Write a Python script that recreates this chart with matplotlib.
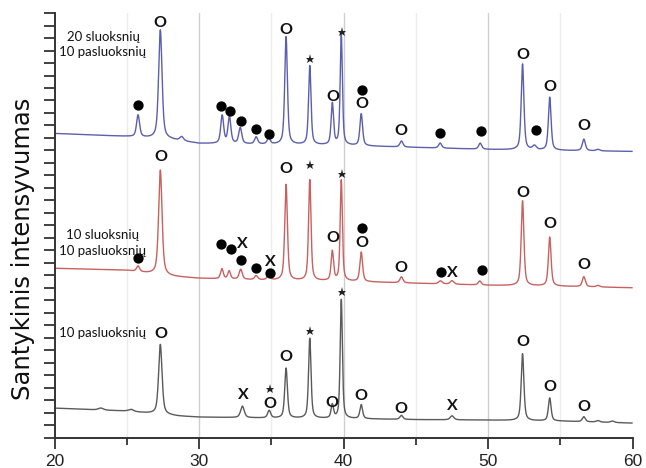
import numpy as np
import matplotlib
matplotlib.use("Agg")
import matplotlib.pyplot as plt
from matplotlib.ticker import MultipleLocator

# ---- diffraction data (2θ in degrees, intensity in arbitrary counts) ----
# background levels of each pattern
bg_black_tt = [20, 25, 28.6, 30, 35, 40, 45, 50, 55, 60]
bg_black_i = [118, 106, 86, 82, 78, 76, 72, 70, 66, 58]
bg_red_tt = [20, 25, 28, 30, 35, 40, 45, 50, 55, 60]
bg_red_i = [678, 670, 646, 638, 630, 626, 618, 610, 606, 600]
bg_blue_tt = [20, 25, 28, 30, 35, 40, 45, 50, 55, 60]
bg_blue_i = [1218, 1206, 1194, 1178, 1174, 1170, 1162, 1154, 1150, 1146]

# reflections: position, height above background, FWHM
pk_black_tt = [23.2, 25.3, 27.32, 33.0, 34.85, 36.02, 37.66, 39.22, 39.84, 41.22,
               44.0, 47.5, 52.38, 54.26, 56.62, 57.6, 58.6]
pk_black_h = [8, 8, 280, 46, 30, 200, 320, 54, 476, 56,
              16, 16, 268, 92, 20, 6, 6]
pk_black_w = [0.4, 0.4, 0.28, 0.3, 0.25, 0.22, 0.2, 0.2, 0.18, 0.22,
              0.25, 0.3, 0.22, 0.22, 0.25, 0.3, 0.3]

pk_red_tt = [25.78, 27.32, 31.58, 32.08, 32.88, 33.95, 34.82, 36.02, 37.66, 39.22,
             39.84, 41.22, 44.0, 46.7, 47.5, 49.42, 52.38, 54.26, 56.62, 57.6]
pk_red_h = [22, 420, 40, 32, 40, 16, 20, 384, 404, 118,
            404, 118, 24, 12, 14, 16, 340, 196, 40, 6]
pk_red_w = [0.25, 0.28, 0.22, 0.22, 0.25, 0.25, 0.25, 0.22, 0.2, 0.2,
            0.18, 0.22, 0.25, 0.3, 0.3, 0.25, 0.22, 0.22, 0.25, 0.3]

pk_blue_tt = [25.78, 27.32, 28.8, 31.6, 32.1, 32.85, 33.95, 34.82, 36.02, 37.66,
              39.22, 39.84, 41.22, 44.0, 46.68, 49.45, 52.38, 53.2, 54.26, 56.62, 57.6]
pk_blue_h = [88, 436, 16, 112, 106, 64, 28, 24, 432, 316,
             166, 440, 128, 24, 20, 24, 344, 16, 212, 46, 6]
pk_blue_w = [0.25, 0.28, 0.3, 0.24, 0.24, 0.25, 0.25, 0.25, 0.22, 0.2,
             0.2, 0.18, 0.22, 0.25, 0.25, 0.25, 0.22, 0.3, 0.22, 0.25, 0.3]

# phase markers: 2θ, intensity, symbol
ann_blue_tt = [25.78, 27.30, 31.52, 32.15, 32.91, 33.94, 34.84, 36.02, 37.68, 39.90,
               39.27, 41.28, 41.28, 43.98, 46.68, 49.51, 52.42, 53.32, 54.29, 56.64]
ann_blue_i = [1330, 1662, 1326, 1306, 1266, 1234, 1214, 1634, 1518, 1626,
              1362, 1394, 1334, 1226, 1218, 1226, 1534, 1230, 1406, 1246]
ann_blue_s = ["●", "O", "●", "●", "●", "●", "●", "O", "★", "★",
              "O", "●", "O", "O", "●", "●", "O", "●", "O", "O"]

ann_red_tt = [25.78, 27.37, 31.52, 32.22, 32.98, 32.91, 33.94, 34.91, 34.91, 36.02,
              37.68, 39.90, 39.27, 41.28, 41.28, 43.98, 46.75, 47.51, 49.58, 52.42,
              54.29, 56.64]
ann_red_i = [718, 1122, 774, 754, 774, 710, 678, 702, 658, 1074,
             1090, 1054, 798, 838, 778, 678, 662, 658, 670, 978,
             854, 690]
ann_red_s = ["●", "O", "●", "●", "X", "●", "●", "X", "●", "O",
             "★", "★", "O", "●", "O", "O", "●", "X", "●", "O",
             "O", "O"]

ann_black_tt = [27.37, 33.05, 34.91, 34.91, 36.02, 37.68, 39.90, 39.20, 41.21, 43.98,
                47.51, 52.42, 54.29, 56.64]
ann_black_i = [414, 170, 194, 134, 322, 426, 582, 138, 166, 114,
               126, 382, 202, 122]
ann_black_s = ["O", "X", "★", "O", "O", "★", "★", "O", "O", "O",
               "X", "O", "O", "O"]

series_labels = ["20 sluoksnių\n10 pasluoksnių", "10 sluoksnių\n10 pasluoksnių", "10 pasluoksnių"]
series_label_tt = [23.35, 23.35, 23.35]
series_label_i = [1574, 780, 418]

x_ticks = [20, 30, 40, 50, 60]
y_label = "Santykinis intensyvumas"
x_lim = (20, 60)
y_lim = (0, 1700)


def pattern(tt, bg_tt, bg_i, pos, height, fwhm, eta=0.55):
    """Background plus pseudo-Voigt reflections."""
    y = np.interp(tt, bg_tt, bg_i).astype(float)
    for p, h, w in zip(pos, height, fwhm):
        d = (tt - p) / (w / 2.0)
        lor = 1.0 / (1.0 + d ** 2)
        gau = np.exp(-np.log(2) * d ** 2)
        y += h * (eta * lor + (1 - eta) * gau)
    return y


tt = np.linspace(x_lim[0], x_lim[1] - 0.05, 6000)
y_black = pattern(tt, bg_black_tt, bg_black_i, pk_black_tt, pk_black_h, pk_black_w)
y_red = pattern(tt, bg_red_tt, bg_red_i, pk_red_tt, pk_red_h, pk_red_w)
y_blue = pattern(tt, bg_blue_tt, bg_blue_i, pk_blue_tt, pk_blue_h, pk_blue_w)

fig = plt.figure(figsize=(6.46, 4.68), dpi=100)
ax = fig.add_axes([0.0844, 0.065, 0.895, 0.907])

for g in [25, 35, 45, 55]:
    ax.axvline(g, color="#ececec", lw=1.0, zorder=0)
for g in [30, 40, 50]:
    ax.axvline(g, color="#cfcfcf", lw=1.0, zorder=0)

ax.plot(tt, y_blue, color="#5b5fae", lw=1.0, zorder=2)
ax.plot(tt, y_red, color="#c8615f", lw=1.0, zorder=2)
ax.plot(tt, y_black, color="#5a5a5a", lw=1.0, zorder=2)


def mark(xs, ys, syms):
    for x, y, s in zip(xs, ys, syms):
        if s == "●":
            ax.plot(x, y, "o", color="black", ms=6.4, zorder=4)
        elif s == "★":
            ax.plot(x, y, "*", color="#222222", ms=6.5, mew=0, zorder=4)
        else:
            ax.text(x, y, s, ha="center", va="center", fontsize=11.5,
                    fontweight="bold", family="Lato", color="#111111", zorder=4)


mark(ann_blue_tt, ann_blue_i, ann_blue_s)
mark(ann_red_tt, ann_red_i, ann_red_s)
mark(ann_black_tt, ann_black_i, ann_black_s)

for lbl, x, y in zip(series_labels, series_label_tt, series_label_i):
    ax.text(x, y, lbl, ha="center", va="center", fontsize=9.5, family="Lato",
            color="#111111", linespacing=1.35)

ax.set_xlim(*x_lim)
ax.set_ylim(*y_lim)
ax.set_xticks(x_ticks)
ax.xaxis.set_minor_locator(MultipleLocator(5))
ax.yaxis.set_major_locator(MultipleLocator(50))
ax.set_yticklabels([])
ax.tick_params(axis="x", which="major", length=8, width=1.3, labelsize=12.5,
               color="#333333", labelcolor="#222222", pad=4)
ax.tick_params(axis="x", which="minor", length=5, width=1.3, color="#333333")
ax.tick_params(axis="y", which="major", length=8, width=1.3, color="#333333")
for lab in ax.get_xticklabels():
    lab.set_family("Liberation Sans")

for side in ["top", "right"]:
    ax.spines[side].set_visible(False)
for side in ["left", "bottom"]:
    ax.spines[side].set_linewidth(1.4)
    ax.spines[side].set_color("#333333")

ax.set_ylabel(y_label, fontsize=17.5, family="DejaVu Sans", color="#111111")
ax.yaxis.set_label_coords(-0.034, 0.444)

fig.savefig("out.png", dpi=100)
